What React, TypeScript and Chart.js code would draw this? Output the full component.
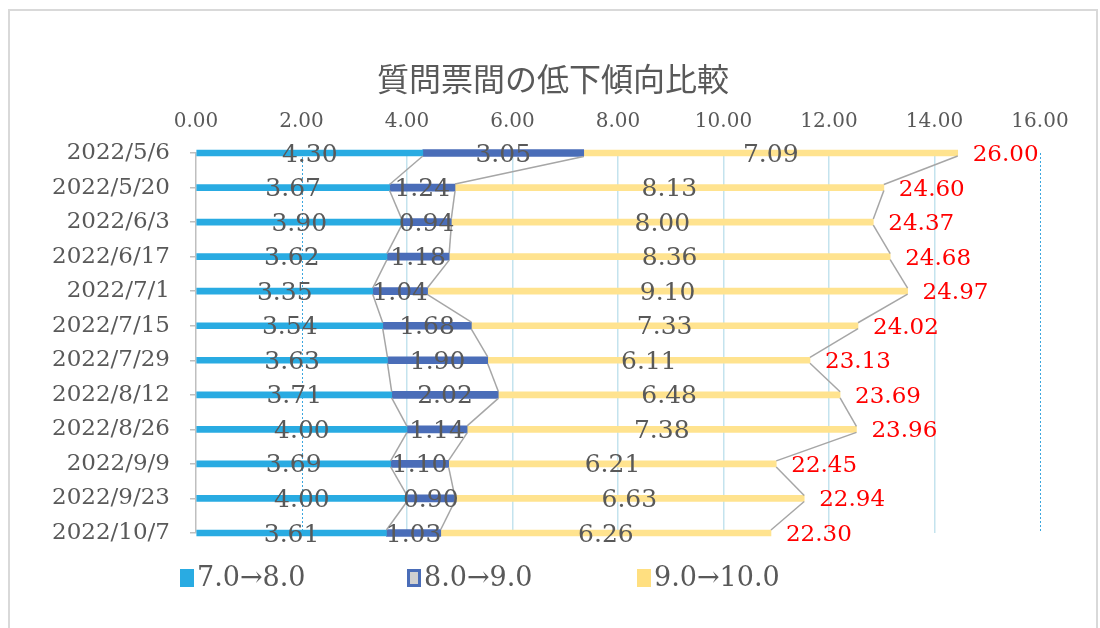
import { useEffect, useRef } from 'react';
import { Chart, registerables } from 'chart.js';

Chart.register(...registerables);

// Survey dates (category axis)
const surveyDates = [
  '2022/5/6', '2022/5/20', '2022/6/3', '2022/6/17', '2022/7/1', '2022/7/15',
  '2022/7/29', '2022/8/12', '2022/8/26', '2022/9/9', '2022/9/23', '2022/10/7',
];

// Stacked drop segments
const drop7to8 = [4.30, 3.67, 3.90, 3.62, 3.35, 3.54, 3.63, 3.71, 4.00, 3.69, 4.00, 3.61];
const drop8to9 = [3.05, 1.24, 0.94, 1.18, 1.04, 1.68, 1.90, 2.02, 1.14, 1.10, 0.90, 1.03];
const drop9to10 = [7.09, 8.13, 8.00, 8.36, 9.10, 7.33, 6.11, 6.48, 7.38, 6.21, 6.63, 6.26];

// Overall score shown in red after each bar
const overallScores = [26.00, 24.60, 24.37, 24.68, 24.97, 24.02, 23.13, 23.69, 23.96, 22.45, 22.94, 22.30];

const chartTitle = '質問票間の低下傾向比較';
const seriesNames = ['7.0→8.0', '8.0→9.0', '9.0→10.0'];
const xMin = 0;
const xMax = 16;
const xStep = 2;
const dottedGuideValues = [2, 16];

const SERIF = "'DejaVu Serif', 'Liberation Serif', serif";
const TEXT_GRAY = '#595959';
const C1 = '#29ABE2';
const C2 = '#4A6DB8';
const C3 = '#FFE38F';

const dottedGuides = {
  id: 'dottedGuides',
  beforeDatasetsDraw(chart: any) {
    const { ctx, chartArea, scales } = chart;
    const x = scales.x;
    ctx.save();
    ctx.strokeStyle = '#3AA6DF';
    ctx.lineWidth = 1;
    ctx.setLineDash([2, 2]);
    for (const v of dottedGuideValues) {
      const px = Math.round(x.getPixelForValue(v)) + 0.5;
      ctx.beginPath();
      ctx.moveTo(px, chartArea.top);
      ctx.lineTo(px, chartArea.bottom);
      ctx.stroke();
    }
    ctx.restore();
  },
};

const seriesLinesAndLabels = {
  id: 'seriesLinesAndLabels',
  afterDatasetsDraw(chart: any) {
    const { ctx } = chart;
    const n = chart.data.datasets.length;
    ctx.save();
    // connector lines between the ends of neighbouring bars
    ctx.strokeStyle = '#A6A6A6';
    ctx.lineWidth = 1.5;
    for (let d = 0; d < n; d++) {
      const meta = chart.getDatasetMeta(d);
      for (let i = 0; i < meta.data.length - 1; i++) {
        const a = meta.data[i];
        const b = meta.data[i + 1];
        ctx.beginPath();
        ctx.moveTo(a.x, a.y + a.height / 2);
        ctx.lineTo(b.x, b.y - b.height / 2);
        ctx.stroke();
      }
    }
    // segment value labels
    ctx.font = `25px ${SERIF}`;
    ctx.fillStyle = TEXT_GRAY;
    ctx.textAlign = 'center';
    ctx.textBaseline = 'middle';
    for (let d = 0; d < n; d++) {
      const meta = chart.getDatasetMeta(d);
      const values = chart.data.datasets[d].data as number[];
      meta.data.forEach((el: any, i: number) => {
        ctx.fillText(values[i].toFixed(2), (el.x + el.base) / 2, el.y + 2);
      });
    }
    // overall scores after the stack
    const last = chart.getDatasetMeta(n - 1);
    ctx.font = `23px ${SERIF}`;
    ctx.fillStyle = '#FF0000';
    ctx.textAlign = 'left';
    last.data.forEach((el: any, i: number) => {
      ctx.fillText(overallScores[i].toFixed(2), el.x + 15, el.y + 2);
    });
    ctx.restore();
  },
};

// Title and legend, placed relative to the whole chart frame
const titleAndLegend = {
  id: 'titleAndLegend',
  afterDraw(chart: any) {
    const { ctx } = chart;
    ctx.save();
    ctx.font = "32px 'Noto Sans CJK JP', sans-serif";
    ctx.fillStyle = TEXT_GRAY;
    ctx.textAlign = 'center';
    ctx.textBaseline = 'middle';
    ctx.fillText(chartTitle, 553, 79);

    const starts = [180, 407, 637];
    const y = 578;
    ctx.font = `27px ${SERIF}`;
    ctx.textAlign = 'left';
    seriesNames.forEach((name, i) => {
      const x = starts[i];
      if (i === 1) {
        ctx.fillStyle = C2;
        ctx.fillRect(x, y - 9, 14, 18);
        ctx.fillStyle = '#D0D0D0';
        ctx.fillRect(x + 3, y - 6, 8, 12);
      } else {
        ctx.fillStyle = i === 0 ? C1 : '#FFDF80';
        ctx.fillRect(x, y - 9, 14, 18);
      }
      ctx.fillStyle = TEXT_GRAY;
      ctx.fillText(name, x + 17, y + 1);
    });
    ctx.restore();
  },
};

export default function App() {
  const canvasRef = useRef<HTMLCanvasElement>(null);

  useEffect(() => {
    if (!canvasRef.current) return;
    const chart = new Chart(canvasRef.current, {
      type: 'bar',
      data: {
        labels: surveyDates,
        datasets: [
          { label: seriesNames[0], data: drop7to8, backgroundColor: C1, barThickness: 6, clip: false as any },
          { label: seriesNames[1], data: drop8to9, backgroundColor: C2, barThickness: 7, clip: false as any },
          { label: seriesNames[2], data: drop9to10, backgroundColor: C3, barThickness: 6, clip: false as any },
        ],
      },
      options: {
        indexAxis: 'y',
        responsive: false,
        animation: false,
        events: [],
        layout: { padding: { top: 111, left: 20, right: 60, bottom: 95 } },
        plugins: {
          legend: { display: false },
          tooltip: { enabled: false },
          title: { display: false },
        },
        scales: {
          x: {
            position: 'top',
            stacked: true,
            min: xMin,
            max: xMax,
            ticks: {
              stepSize: xStep,
              padding: 19,
              color: TEXT_GRAY,
              font: { family: SERIF, size: 20 },
              callback: (v: any) => Number(v).toFixed(2),
            },
            grid: {
              drawTicks: false,
              lineWidth: 1.5,
              color: (c: any) =>
                c.tick && (c.tick.value === 0 || dottedGuideValues.includes(c.tick.value))
                  ? 'rgba(0,0,0,0)'
                  : '#C4E3EE',
            },
            border: { display: false },
            afterFit: (s: any) => { s.height = 42; },
          },
          y: {
            type: 'category',
            stacked: true,
            offset: false,
            ticks: {
              autoSkip: false,
              padding: 20,
              color: TEXT_GRAY,
              font: { family: SERIF, size: 23 },
            },
            grid: {
              offset: false,
              drawOnChartArea: false,
              drawTicks: true,
              tickLength: 6,
              color: '#BFBFBF',
              lineWidth: 1.5,
            },
            border: { display: true, color: '#BFBFBF', width: 1.5 },
            afterFit: (s: any) => { s.width = 176; },
          },
        },
      },
      plugins: [dottedGuides, seriesLinesAndLabels, titleAndLegend],
    } as any);
    return () => chart.destroy();
  }, []);

  return (
    <div style={{ position: 'fixed', left: 0, top: 0, width: 1100, height: 628, background: '#fff', overflow: 'hidden' }}>
      <div
        style={{
          position: 'absolute', left: 8, top: 9, width: 1090, height: 700,
          border: '2px solid #D9D9D9', boxSizing: 'border-box',
        }}
      />
      <canvas ref={canvasRef} width={1100} height={628} style={{ position: 'absolute', left: 0, top: 0 }} />
    </div>
  );
}
